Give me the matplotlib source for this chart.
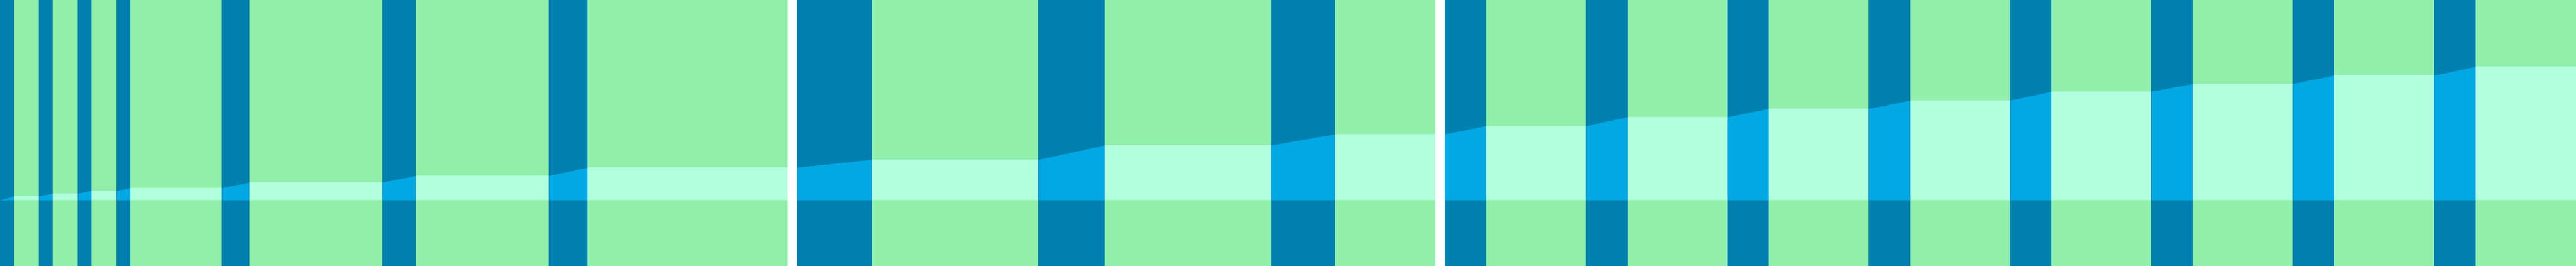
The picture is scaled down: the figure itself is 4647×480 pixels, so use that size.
import matplotlib
matplotlib.use("Agg")
import matplotlib.pyplot as plt
import numpy as np

# Transition periods (dark bands): start and end on the x scale
dark_start = [0, 70, 140, 210, 400, 690, 990, 1438, 1873, 2293,
              2606, 2861, 3116, 3371, 3626, 3881, 4136, 4391]
dark_end = [25, 95, 165, 235, 450, 750, 1060, 1573, 1993, 2408,
            2681, 2936, 3191, 3446, 3701, 3956, 4211, 4466]
# Level of the series reached at the end of each transition
levels = [7, 12, 17, 22, 32, 44, 59, 73, 99, 119,
          134, 150, 165, 180, 196, 210, 225, 241]
start_level = 0
# Breaks in the x axis (white gaps)
gap_start = [1421, 2589]
gap_end = [1438, 2606]

X_MAX = 4647
Y_MIN, Y_MAX = -119, 361

GREEN = "#8fefab"
DARK = "#0180b0"
MINT = "#b2ffde"
BRIGHT = "#00a8e4"

fig = plt.figure(figsize=(46.47, 4.8), dpi=100)
ax = fig.add_axes([0, 0, 1, 1])
ax.set_xlim(0, X_MAX)
ax.set_ylim(Y_MIN, Y_MAX)
ax.axis("off")

# Series points built from the data
xs, ys = [], []
prev = start_level
for s, e, lv in zip(dark_start, dark_end, levels):
    xs += [s, e]
    ys += [prev, lv]
    prev = lv
xs.append(X_MAX)
ys.append(prev)

# Background columns: green everywhere, dark bands for transitions
ax.axvspan(0, X_MAX, color=GREEN, lw=0)
for s, e in zip(dark_start, dark_end):
    ax.axvspan(s, e, color=DARK, lw=0)

# Area under the series, coloured per column
bounds = sorted(set([0, X_MAX] + dark_start + dark_end))
dark_set = set(zip(dark_start, dark_end))
for a, b in zip(bounds[:-1], bounds[1:]):
    ya = np.interp(a, xs, ys)
    yb = np.interp(b, xs, ys)
    col = BRIGHT if (a, b) in dark_set else MINT
    ax.fill_between([a, b], [0, 0], [ya, yb], color=col, lw=0)

# Axis breaks
for s, e in zip(gap_start, gap_end):
    ax.axvspan(s, e, color="white", lw=0, zorder=5)

fig.savefig("out.png", dpi=100)
